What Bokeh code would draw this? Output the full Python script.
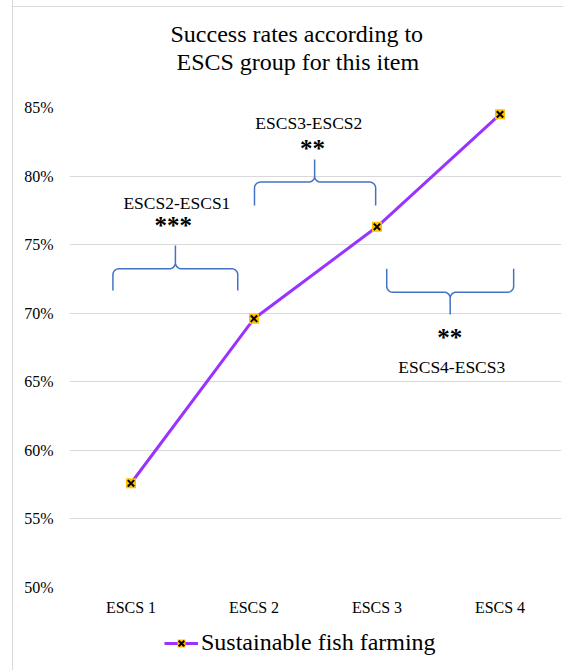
import numpy as np
from bokeh.plotting import figure
from bokeh.layouts import column
from bokeh.models import FixedTicker, Legend, LegendItem, Title
from bokeh.core.properties import value
from bokeh.embed import file_html
from bokeh.resources import INLINE

# ---------------- data ----------------
categories = ["ESCS 1", "ESCS 2", "ESCS 3", "ESCS 4"]
success_rates = [57.6, 69.6, 76.3, 84.5]
series_name = "Sustainable fish farming"
y_ticks = [50, 55, 60, 65, 70, 75, 80, 85]
y_tick_labels = ["50%", "55%", "60%", "65%", "70%", "75%", "80%", "85%"]
title_lines = ["Success rates according to", "ESCS group for this item"]

# pairwise comparison annotations (braces + labels)
comp_labels = ["ESCS2-ESCS1", "ESCS3-ESCS2", "ESCS4-ESCS3"]
comp_stars = ["***", "**", "**"]
brace_left = [-0.147, 1.004, 2.079]
brace_right = [0.868, 1.989, 3.111]
brace_tip_x = [0.361, 1.493, 2.595]
brace_leg_y = [71.66, 77.86, 73.24]
brace_bar_y = [73.24, 79.56, 71.53]
brace_tip_y = [74.94, 81.2, 69.9]
label_x = [0.373, 1.446, 2.608]
label_y = [78.03, 83.87, 66.11]
star_x = [0.343, 1.476, 2.592]
star_y = [76.4, 82.0, 68.2]

# ---------------- layout ----------------
W, H = 563, 630
LEG_H = 40
MB_L, MB_R, MB_T, MB_B = 69, 2, 107, 43
x_lo, x_hi = -0.5, 3.5
y_lo, y_hi = 50, 85
px_x = (W - MB_L - MB_R) / (x_hi - x_lo)
px_y = (H - MB_T - MB_B) / (y_hi - y_lo)

SERIF = "Liberation Serif"
LINE_COLOR = "#9933ff"
MARK_FILL = "#ffc000"

p = figure(width=W, height=H, x_range=(x_lo, x_hi), y_range=(y_lo, y_hi),
           output_backend="svg", toolbar_location=None,
           min_border_left=MB_L, min_border_right=MB_R,
           min_border_top=MB_T, min_border_bottom=MB_B)
p.outline_line_color = None
p.background_fill_color = None
p.border_fill_color = None

p.xgrid.visible = False
p.ygrid.grid_line_color = "#d9d9d9"
p.ygrid.grid_line_width = 1

p.yaxis.ticker = FixedTicker(ticks=y_ticks)
p.yaxis.major_label_overrides = {t: l for t, l in zip(y_ticks, y_tick_labels)}
p.xaxis.ticker = FixedTicker(ticks=list(range(len(categories))))
p.xaxis.major_label_overrides = {i: c for i, c in enumerate(categories)}
for ax in (p.xaxis, p.yaxis):
    ax.axis_line_color = None
    ax.major_tick_line_color = None
    ax.minor_tick_line_color = None
    ax.major_tick_out = 0
    ax.major_tick_in = 0
    ax.major_label_text_font = SERIF
    ax.major_label_text_font_size = "16px"
    ax.major_label_text_color = "#000000"
p.yaxis.major_label_standoff = 16
p.xaxis.major_label_standoff = 11

# ---------------- series ----------------
xs = list(range(len(categories)))
p.line(xs, success_rates, line_color=LINE_COLOR, line_width=3)
p.scatter(xs, success_rates, marker="square", size=10,
          fill_color=MARK_FILL, line_color=None)
p.scatter(xs, success_rates, marker="x", size=9,
          line_color="#000000", line_width=2)

# ---------------- braces ----------------
def brace(xl, xr, xc, leg, bar, tip, r=6):
    s = 1.0 if tip > bar else -1.0
    rx, ry = r / px_x, r / px_y
    px, py = [xl], [leg]
    t = np.linspace(np.pi, np.pi / 2, 10)
    px += list(xl + rx + rx * np.cos(t)); py += list(bar - s * ry + s * ry * np.sin(t))
    t = np.linspace(-np.pi / 2, 0, 10)
    px += list(xc - rx + rx * np.cos(t)); py += list(bar + s * ry + s * ry * np.sin(t))
    px += [xc]; py += [tip]
    t = np.linspace(np.pi, 1.5 * np.pi, 10)
    px += list(xc + rx + rx * np.cos(t)); py += list(bar + s * ry + s * ry * np.sin(t))
    t = np.linspace(np.pi / 2, 0, 10)
    px += list(xr - rx + rx * np.cos(t)); py += list(bar - s * ry + s * ry * np.sin(t))
    px += [xr]; py += [leg]
    return [float(v) for v in px], [float(v) for v in py]

bx, by = [], []
for i in range(len(comp_labels)):
    a, b = brace(brace_left[i], brace_right[i], brace_tip_x[i],
                 brace_leg_y[i], brace_bar_y[i], brace_tip_y[i])
    bx.append(a); by.append(b)
p.multi_line(bx, by, line_color="#4472c4", line_width=1.5)

p.text(label_x, label_y, text=comp_labels, text_font=value(SERIF),
       text_font_size="17.5px", text_align="center", text_baseline="middle",
       text_color="#000000")
p.text(star_x, star_y, text=comp_stars, text_font=value(SERIF),
       text_font_size="25px", text_font_style="bold", text_align="center",
       text_baseline="middle", text_color="#000000")

# ---------------- title (two stacked lines + spacer) ----------------
spacer = Title(text=" ", text_font=SERIF, text_font_size="24px", standoff=5)
t2 = Title(text=title_lines[1], text_font=SERIF, text_font_size="24px",
           text_font_style="normal", text_color="#000000",
           align="left", offset=107, standoff=0)
t1 = Title(text=title_lines[0], text_font=SERIF, text_font_size="24px",
           text_font_style="normal", text_color="#000000",
           align="left", offset=101, standoff=0)
p.add_layout(spacer, "above")
p.add_layout(t2, "above")
p.add_layout(t1, "above")

# ---------------- legend strip ----------------
lf = figure(width=W, height=LEG_H, x_range=(0, 1), y_range=(0, 1),
            output_backend="svg", toolbar_location=None,
            x_axis_location=None, y_axis_location=None,
            min_border=0, min_border_left=0, min_border_right=0,
            min_border_top=0, min_border_bottom=0)
lf.grid.visible = False
lf.outline_line_color = None
lf.background_fill_color = None
lf.border_fill_color = None
# legend proxies: a point outside the strip's visible range
proxy_x, proxy_y = [-5, -4], [-5, -5]
l_line = lf.line(proxy_x, proxy_y, line_color=LINE_COLOR, line_width=3)
l_sq = lf.scatter(proxy_x, proxy_y, marker="square", size=10,
                  fill_color=MARK_FILL, line_color=None)
l_x = lf.scatter(proxy_x, proxy_y, marker="x", size=9,
                 line_color="#000000", line_width=2)
legend = Legend(items=[LegendItem(label=series_name, renderers=[l_line, l_sq, l_x])],
                location=(95, 14), orientation="horizontal",
                label_text_font=SERIF, label_text_font_size="24px",
                label_text_color="#000000", glyph_width=34, glyph_height=20,
                label_standoff=3, margin=0, padding=0,
                border_line_alpha=0, background_fill_alpha=0)
lf.add_layout(legend, "center")

layout = column(p, lf, spacing=0)
layout.styles = {
    "background-color": "white",
    "background-image": "linear-gradient(#d9d9d9, #d9d9d9), linear-gradient(#d9d9d9, #d9d9d9)",
    "background-position": "12px 0px, 12px 6px",
    "background-size": "1px 100%, 100% 1px",
    "background-repeat": "no-repeat, no-repeat",
}
open("out.html", "w").write(file_html(layout, INLINE))
